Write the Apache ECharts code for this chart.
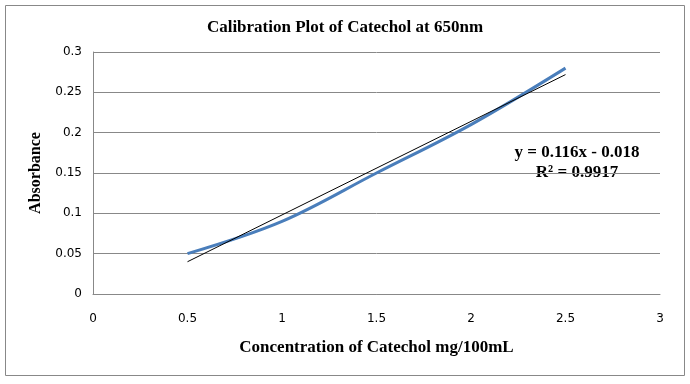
<!DOCTYPE html>
<html><head><meta charset="utf-8">
<script src="https://cdn.jsdelivr.net/npm/echarts@6/dist/echarts.min.js"></script>
<style>html,body{margin:0;padding:0;background:#fff}#c{width:690px;height:384px}</style>
</head><body><div id="c"></div>
<script>
const concentrations = [0.5, 1, 1.5, 2, 2.5];
const absorbance = [0.05, 0.09, 0.15, 0.21, 0.28];
const trendX = [0.5, 2.5];
const trendY = [0.04, 0.272];
const titleText = 'Calibration Plot of Catechol at 650nm';
const xTitle = 'Concentration of Catechol mg/100mL';
const yTitle = 'Absorbance';
const eqLines = ['y = 0.116x - 0.018', 'R² = 0.9917'];

const chart = echarts.init(document.getElementById('c'));
const serif = '"Liberation Serif", "Times New Roman", serif';
const sans = '"DejaVu Sans", Tahoma, sans-serif';
chart.setOption({
  animation: false,
  title: {text: titleText, left: 'center', top: 14,
    textStyle: {fontFamily: serif, fontSize: 17, fontWeight: 'bold', color: '#000'}},
  grid: {left: 93, right: 30, top: 52, bottom: 90},
  xAxis: {type: 'value', min: 0, max: 3, interval: 0.5,
    axisLine: {show: true, lineStyle: {color: '#888'}},
    axisTick: {show: false}, splitLine: {show: false},
    axisLabel: {margin: 19, fontFamily: sans, fontSize: 12, color: '#000'},
    name: xTitle, nameLocation: 'middle', nameGap: 45,
    nameTextStyle: {fontFamily: serif, fontSize: 17, fontWeight: 'bold', color: '#000'}},
  yAxis: {type: 'value', min: 0, max: 0.3, interval: 0.05,
    axisLine: {show: true, lineStyle: {color: '#888'}},
    axisTick: {show: false},
    splitLine: {lineStyle: {color: '#888'}},
    axisLabel: {margin: 11, fontFamily: sans, fontSize: 12, color: '#000'},
    name: yTitle, nameLocation: 'middle', nameGap: 49,
    nameTextStyle: {fontFamily: serif, fontSize: 16, fontWeight: 'bold', color: '#000'}},
  series: [
    {type: 'line', smooth: 0.35, symbol: 'none',
      data: concentrations.map((x, i) => [x, absorbance[i]]),
      lineStyle: {color: '#4a7ebb', width: 3}, z: 2},
    {type: 'line', symbol: 'none',
      data: trendX.map((x, i) => [x, trendY[i]]),
      lineStyle: {color: '#000', width: 1}, z: 3}
  ],
  graphic: [
    {type: 'rect', shape: {x: 5.5, y: 5.5, width: 679, height: 370},
      style: {fill: 'none', stroke: '#888', lineWidth: 1}, silent: true, z: -1},
    {type: 'text', x: 577, y: 153, style: {text: eqLines[0], fontFamily: serif, fontSize: 17,
      fontWeight: 'bold', fill: '#000', textAlign: 'center', textVerticalAlign: 'middle'}},
    {type: 'text', x: 577, y: 173, style: {text: eqLines[1], fontFamily: serif, fontSize: 17,
      fontWeight: 'bold', fill: '#000', textAlign: 'center', textVerticalAlign: 'middle'}}
  ]
});
</script></body></html>
